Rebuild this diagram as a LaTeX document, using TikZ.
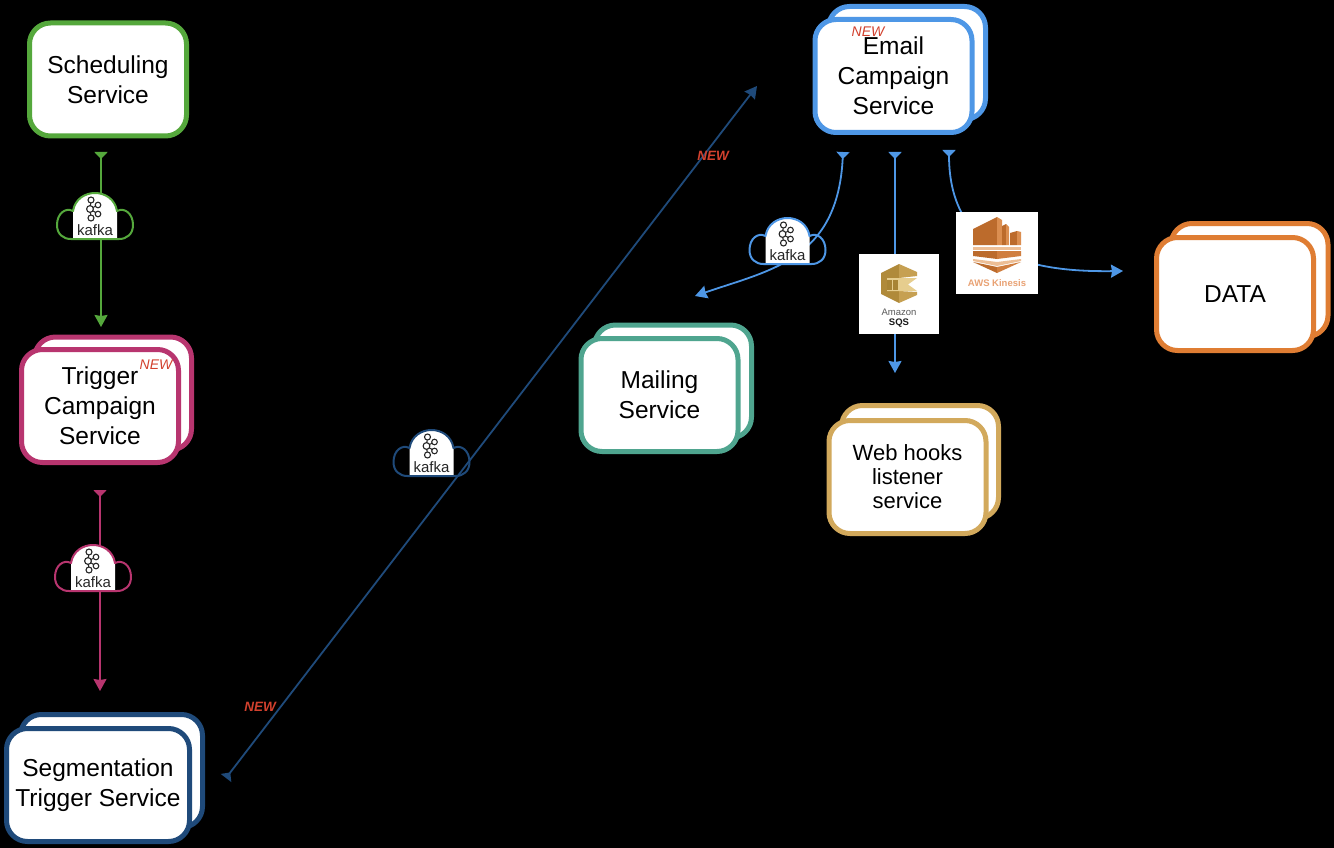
\documentclass[tikz,border=0pt]{standalone}
\usepackage{fontspec}
\setmainfont{Liberation Sans}
\usetikzlibrary{arrows.meta}
\definecolor{cgreen}{HTML}{55A83C}
\definecolor{cmag}{HTML}{B8356F}
\definecolor{cnavy}{HTML}{1F4A7A}
\definecolor{cblue}{HTML}{4E97E6}
\definecolor{cteal}{HTML}{4FA58F}
\definecolor{cgold}{HTML}{D2A95C}
\definecolor{corange}{HTML}{DF7D33}
\definecolor{cnew}{HTML}{D2412E}
\definecolor{sqsA}{HTML}{B08A3A}
\definecolor{sqsB}{HTML}{C6A052}
\definecolor{sqsC}{HTML}{E6CD8E}
\definecolor{sqsD}{HTML}{A88435}
\definecolor{kinA}{HTML}{BC6B2C}
\definecolor{kinB}{HTML}{DB8E50}
\definecolor{kinC}{HTML}{EDBE95}
\definecolor{kinD}{HTML}{D07E3F}
\definecolor{kinT}{HTML}{E9A274}
\tikzset{
  svc/.style={draw=#1,fill=white,line width=5pt,rounded corners=21pt,minimum width=157pt,minimum height=113pt,align=center,inner sep=0pt,text=black,font=\fontsize{24.5}{30}\selectfont},
  flow/.style={draw=#1,line width=1.8pt,{Triangle[reversed,length=7pt,width=13pt,color=#1]}-{Stealth[length=12pt,width=13pt,inset=1pt,color=#1]}},
  newtag/.style={text=cnew,font=\fontsize{14}{14}\selectfont\itshape,inner sep=0pt},
  newbold/.style={text=cnew,font=\fontsize{13.5}{14}\selectfont\itshape\bfseries,inner sep=0pt},
  kafkaword/.style={text=black!85,font=\fontsize{15}{15}\selectfont,inner sep=0pt}
}
\newcommand{\kafkacloud}[4]{%
  \begin{scope}[shift={(#2,#3)}]
    \fill[white] (-22,-5) .. controls (-18,-29) and (18,-29) .. (22,-5) -- (22,23) -- (-22,23) -- cycle;
    \draw[#4,line width=2pt,line join=round] (-22,-5) .. controls (-18,-29) and (18,-29) .. (22,-5)
      .. controls (30,-9) and (38,-2) .. (38,9) .. controls (38,18) and (32,23) .. (24,23)
      -- (-24,23) .. controls (-32,23) and (-38,18) .. (-38,9) .. controls (-38,-2) and (-30,-9) .. (-22,-5) -- cycle;
    \draw[black!85,line width=1.1pt]
      (-4,-16) -- (-5,-7) -- (-4,2) (-5,-7) -- (3,-11) (-5,-7) -- (3,-2);
    \foreach \p/\r in {{-4,-16}/3,{-5,-7}/3.4,{-4,2}/3,{3,-11}/2.8,{3,-2}/2.8}
      \draw[black!85,line width=1.1pt,fill=white] (\p) circle[radius=\r pt];
    \node[kafkaword] (#1) at (0,14) {kafka};
  \end{scope}}
\begin{document}
\begin{tikzpicture}[x=1pt,y=-1pt]
\useasboundingbox (0,0) rectangle (1334,848);
\fill[black] (0,0) rectangle (1334,848);

% free ends of connectors
\coordinate (gA) at (101,152);  \coordinate (gB) at (101,327);
\coordinate (mA) at (100,490);  \coordinate (mB) at (100,691);
\coordinate (nA) at (226,778);  \coordinate (nB) at (757,86);
\coordinate (bA) at (843,152);  \coordinate (bB) at (695,296);
\coordinate (sA) at (895,152);  \coordinate (sB) at (895,373);
\coordinate (kA) at (949,150);  \coordinate (kB) at (1123,271);

% connectors
\draw[flow=cgreen] (gA) -- (gB);
\draw[flow=cmag] (mA) -- (mB);
\draw[flow=cnavy] (nA) -- (nB);
\draw[flow=cblue] (bA) .. controls (838,260) and (770,270) .. (bB);
\draw[flow=cblue] (sA) -- (sB);
\draw[flow=cblue] (kA) .. controls (949,260) and (1040,272) .. (kB);

% service boxes
\node[svc=cgreen] (sched) at (108,79.5) {Scheduling\\Service};

\node[svc=cmag] (trigB) at (113,393.5) {};
\node[svc=cmag] (trig) at (100,406) {Trigger\\Campaign\\Service};

\node[svc=cnavy,minimum width=182pt] (segB) at (111.5,771) {};
\node[svc=cnavy,minimum width=183pt] (seg) at (98,785) {Segmentation\\Trigger Service};

\node[svc=cblue] (emailB) at (907,63) {};
\node[svc=cblue] (email) at (893.5,76) {Email\\Campaign\\Service};

\node[svc=cteal] (mailB) at (673,381.5) {};
\node[svc=cteal] (mail) at (659.5,395) {Mailing\\Service};

\node[svc=cgold] (hookB) at (920,462) {};
\node[svc=cgold,font=\fontsize{22}{24}\selectfont] (hook) at (907.5,477) {Web hooks\\listener\\service};

\node[svc=corange] (dataB) at (1249.5,280) {};
\node[svc=corange] (data) at (1235,294) {DATA};

% NEW tags
\node[newtag] (n1) at (156,365) {NEW};
\node[newtag] (n2) at (868,32) {NEW};
\node[newbold] (n3) at (713,156) {NEW};
\node[newbold] (n4) at (260,707) {NEW};

% kafka clouds
\kafkacloud{k1}{95}{216}{cgreen}
\kafkacloud{k2}{93}{568}{cmag}
\kafkacloud{k3}{431.5}{453}{cnavy}
\kafkacloud{k4}{787.5}{241}{cblue}

% Amazon SQS
\fill[white] (859,254) rectangle (939,334);
\fill[sqsA] (881,273) -- (899,264) -- (899,303) -- (881,294) -- cycle;
\fill[sqsB] (899,264) -- (917,272) -- (917,276) -- (899,278) -- cycle;
\fill[sqsB] (899,303) -- (917,295) -- (917,292) -- (899,291) -- cycle;
\fill[sqsC] (887,278) -- (917,278) -- (908,284.5) -- (917,291) -- (887,291) -- cycle;
\fill[sqsD] (887,279.5) rectangle (891.5,289.5);
\fill[sqsD] (893,279.5) rectangle (898,289.5);
\node[text=black!65,font=\fontsize{9.5}{10}\selectfont,inner sep=0pt] (sqs1) at (899,312) {Amazon};
\node[text=black!90,font=\fontsize{9.5}{10}\selectfont\bfseries,inner sep=0pt] (sqs2) at (899,323) {SQS};

% AWS Kinesis
\fill[white] (956,212) rectangle (1038,294);
\fill[kinA] (973,229) -- (997,217) -- (997,245) -- (973,245) -- cycle;
\fill[kinB] (997,217) -- (1002,220) -- (1002,245) -- (997,245) -- cycle;
\fill[kinA] (1002,226) -- (1006,224) -- (1006,245) -- (1002,245) -- cycle;
\fill[kinB] (1006,224) -- (1009,227) -- (1009,245) -- (1006,245) -- cycle;
\fill[kinA] (1010,233) -- (1017,231) -- (1017,245) -- (1010,245) -- cycle;
\fill[kinB] (1017,231) -- (1021,232) -- (1021,245) -- (1017,245) -- cycle;
\fill[kinC] (973,247) rectangle (1021,249.5);
\fill[kinA] (973,251) -- (997,251) -- (997,259) -- (973,256) -- cycle;
\fill[kinD] (997,251) -- (1021,251) -- (1021,256) -- (997,259) -- cycle;
\fill[kinC] (973,259) -- (997,262) -- (1021,259) -- (1021,261) -- (997,266) -- (973,261) -- cycle;
\fill[kinA] (973,262) -- (997,267) -- (997,273) -- cycle;
\fill[kinD] (1021,262) -- (997,267) -- (997,273) -- cycle;
\node[text=kinT,font=\fontsize{9.5}{10}\selectfont\bfseries,inner sep=0pt] (kin) at (997,283) {AWS Kinesis};
\end{tikzpicture}
\end{document}
